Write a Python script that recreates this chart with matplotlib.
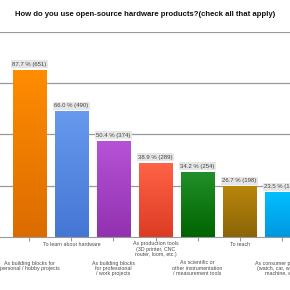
import matplotlib
matplotlib.use("Agg")
import matplotlib.pyplot as plt
import numpy as np
from matplotlib.colors import LinearSegmentedColormap

categories = [
    "As building blocks for\npersonal / hobby projects",
    "To learn about hardware",
    "As building blocks\nfor professional\n/ work projects",
    "As production tools\n(3D printer, CNC\nrouter, loom, etc.)",
    "As scientific or\nother instrumentation\n/ measurement tools",
    "To teach",
    "As consumer products\n(watch, car, washing\nmachine, etc.)",
]
percents = [87.7, 66.0, 50.4, 38.9, 34.2, 26.7, 23.5]
counts = [651, 490, 374, 289, 254, 198, 174]
top_colors = ["#ff8c00", "#6799ee", "#b652d6", "#ff6347", "#22902a", "#b8860b", "#00bfff"]
bot_colors = ["#dc6c00", "#4676d4", "#9232b0", "#dc3c24", "#006400", "#8b6508", "#0098e0"]
title = "How do you use open-source hardware products?(check all that apply)"

DPI = 100
fig = plt.figure(figsize=(2.9, 2.9), dpi=DPI)
fig.patch.set_facecolor("white")
W = H = 290.0
ax = fig.add_axes([0.0, 53 / H, 1.0, 205.3 / H])
for s in ["left", "right", "top"]:
    ax.spines[s].set_visible(False)
ax.spines["bottom"].set_color("#999999")
ax.spines["bottom"].set_linewidth(0.8)
ax.set_yticks([200, 400, 600, 800])
ax.yaxis.grid(True, color="#999999", linewidth=0.9)
ax.tick_params(axis="y", left=False, labelleft=False)
ax.set_axisbelow(True)

x = np.arange(len(categories))
bars = ax.bar(x, counts, width=0.786, color="none", edgecolor="white", linewidth=0.5, zorder=2)
for i, b in enumerate(bars):
    cmap = LinearSegmentedColormap.from_list("g", [bot_colors[i], top_colors[i]])
    grad = np.linspace(0, 1, 64).reshape(-1, 1)
    im = ax.imshow(grad, cmap=cmap, origin="lower", aspect="auto",
                   extent=[b.get_x(), b.get_x() + b.get_width(), 0, b.get_height()],
                   zorder=2)
    im.set_clip_path(b)
    ax.text(b.get_x() + b.get_width() / 2, counts[i] + 12,
            f"{percents[i]:.1f} % ({counts[i]})", ha="center", va="bottom",
            fontsize=4.3, color="#444444", family="Liberation Sans", zorder=4,
            bbox=dict(boxstyle="square,pad=0.25", fc="#e6e6e6", ec="none"))
ax.set_xlim(-0.7, 6.2)
ax.set_ylim(0, 800)

ax.set_xticks(x)
ax.set_xticklabels([])
ax.tick_params(axis="x", length=3, color="#999999", width=0.8)

for i, lab in enumerate(categories):
    off = -4.5 if i % 2 == 1 else -23.5
    ax.annotate(lab, xy=(x[i], 0), xycoords=("data", "axes fraction"),
                xytext=(0, off * 0.72), textcoords="offset points",
                ha="center", va="top", fontsize=3.75, color="#4a4a4a",
                family="Liberation Sans", linespacing=1.1, annotation_clip=False)

fig.text(0.5, 1 - 14 / H, title, ha="center", va="center", fontsize=5.55,
         fontweight="bold", family="Liberation Sans", color="#111111")

fig.savefig("out.png", dpi=DPI, facecolor="white")
